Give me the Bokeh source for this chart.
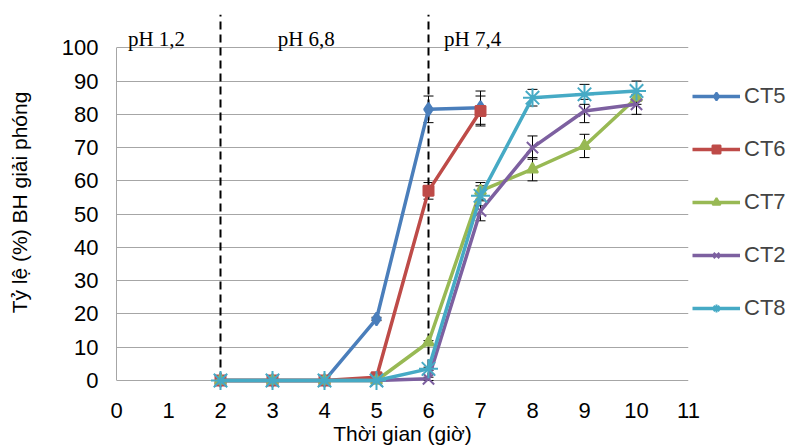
from bokeh.plotting import figure
from bokeh.models import Legend, LegendItem, Whisker, ColumnDataSource, FixedTicker, TeeHead
from bokeh.core.properties import value
from bokeh.embed import file_html
from bokeh.resources import INLINE

# ---- data ----
hours = [2, 3, 4, 5, 6, 7, 8, 9, 10]
ct5 = [0, 0, 0, 18.5, 81.5, 82.0]
ct5_err = [0, 0, 0, 0.5, 4.0, 5.0]
ct6 = [0, 0, 0, 1.0, 57.0, 81.0]
ct6_err = [0, 0, 0, 0.5, 2.5, 4.5]
ct7 = [0, 0, 0, 0, 11.5, 57.0, 63.5, 70.5, 85.0]
ct7_err = [0, 0, 0, 0, 0.5, 2.5, 3.5, 3.5, 2.0]
ct2 = [0, 0, 0, 0, 0.5, 51.0, 70.0, 81.0, 83.0]
ct2_err = [0, 0, 0, 0, 0.5, 3.0, 3.5, 3.5, 3.0]
ct8 = [0, 0, 0, 0, 3.5, 55.5, 85.0, 86.0, 87.0]
ct8_err = [0, 0, 0, 0, 0.5, 3.0, 2.5, 3.0, 3.0]

phase_bounds = [2, 6]
phase_labels = ["pH 1,2", "pH 6,8", "pH 7,4"]
phase_label_x = [0.22, 3.1, 6.3]
phase_label_y = [102.5, 102.5, 102.5]

x_ticks = list(range(0, 12))
y_ticks = list(range(0, 101, 10))

series = [
    ("CT5", ct5, ct5_err, "#4A7EBB", "diamond", 13),
    ("CT6", ct6, ct6_err, "#BE4B48", "square", 10),
    ("CT7", ct7, ct7_err, "#98B954", "triangle", 11),
    ("CT2", ct2, ct2_err, "#7D60A0", "x", 16),
    ("CT8", ct8, ct8_err, "#46AAC5", "asterisk", 19),
]

p = figure(frame_width=572, frame_height=376, x_range=(0, 11), y_range=(-3, 110),
           output_backend="svg", toolbar_location=None,
           min_border_left=116, min_border_right=10, min_border_top=14,
           min_border_bottom=50)
p.outline_line_color = None
p.background_fill_color = "white"

p.xgrid.visible = False
p.ygrid.ticker = FixedTicker(ticks=y_ticks)
p.ygrid.grid_line_color = "#A6A6A6"
p.ygrid.grid_line_width = 1
p.ygrid.bounds = (0, 11)

p.xaxis.ticker = FixedTicker(ticks=x_ticks)
p.yaxis.ticker = FixedTicker(ticks=y_ticks)
p.yaxis.bounds = (0, 100)
for ax in (p.xaxis, p.yaxis):
    ax.major_tick_line_color = None
    ax.minor_tick_line_color = None
    ax.major_label_text_font = "Liberation Sans"
    ax.major_label_text_font_size = "22px"
    ax.major_label_text_color = "#000000"
    ax.axis_label_text_font = "Liberation Sans"
    ax.axis_label_text_font_size = "21px"
    ax.axis_label_text_font_style = "normal"
    ax.axis_label_text_color = "#000000"
p.xaxis.axis_line_color = None
p.yaxis.axis_line_color = "#A6A6A6"
p.xaxis.major_label_standoff = 6
p.yaxis.major_label_standoff = 12
p.xaxis.axis_label = "Thời gian (giờ)"
p.yaxis.axis_label = "Tỷ lệ (%) BH giải phóng"
p.xaxis.axis_label_standoff = 1
p.yaxis.axis_label_standoff = 28

# phase boundaries
p.segment(x0=phase_bounds, y0=[0] * len(phase_bounds), x1=phase_bounds,
          y1=[110] * len(phase_bounds), line_color="black", line_width=2,
          line_dash="8 5")
p.text(x=phase_label_x, y=phase_label_y, text=phase_labels,
       text_font=value("Liberation Serif"), text_font_size="21px",
       text_baseline="middle", text_align="left", text_color="black")

items = []
for name, ys, errs, color, marker, size in series:
    xs = hours[:len(ys)]
    src = ColumnDataSource(dict(x=xs, y=ys,
                                lo=[a - b for a, b in zip(ys, errs)],
                                hi=[a + b for a, b in zip(ys, errs)]))
    w = Whisker(base="x", lower="lo", upper="hi", source=src,
                line_color="black", line_width=1,
                upper_head=TeeHead(size=10, line_color="black", line_width=1),
                lower_head=TeeHead(size=10, line_color="black", line_width=1))
    p.add_layout(w)
    r_line = p.line("x", "y", source=src, line_color=color, line_width=3.5)
    r_mark = p.scatter("x", "y", source=src, marker=marker, size=size,
                       fill_color=color, line_color=color, line_width=2)
    items.append(LegendItem(label=name, renderers=[r_line, r_mark]))

legend = Legend(items=items, location="center_left", orientation="vertical",
                glyph_width=48, glyph_height=20, label_height=20,
                spacing=27, padding=0, margin=4, label_standoff=4,
                label_text_font="Liberation Sans", label_text_font_size="22px",
                border_line_color=None, background_fill_alpha=0)
p.add_layout(legend, "right")

open("out.html", "w").write(file_html(p, INLINE))
